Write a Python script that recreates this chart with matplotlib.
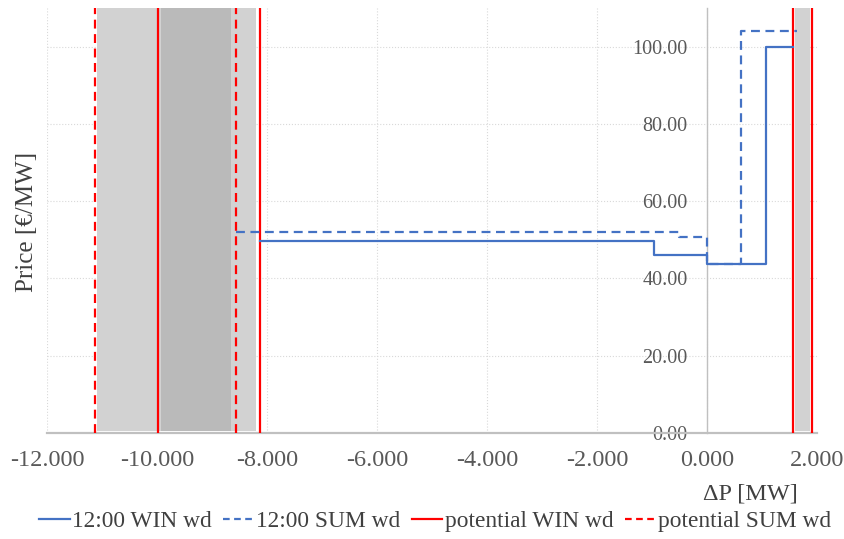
import matplotlib
matplotlib.use("Agg")
import matplotlib.pyplot as plt
from matplotlib.ticker import FormatStrFormatter
from matplotlib.lines import Line2D

plt.rcParams['font.family'] = ['Liberation Serif', 'DejaVu Serif']

# Data (ΔP in MW, price in €/MW)
win_x = [-8.127, -0.964, 0.0, 1.067, 1.564]
win_y = [49.8, 46.1, 43.7, 99.8, 99.8]
sum_x = [-8.569, -0.504, 0.0, 0.612, 1.630]
sum_y = [51.9, 50.7, 43.7, 104.0, 104.0]
pot_win = [-9.976, -8.127, 1.564, 1.915]
pot_sum = [-11.127, -8.569]
span_light = [(-11.09, -8.20), (1.605, 1.873)]
span_dark = [(-9.93, -8.654)]
xticks = [-12, -10, -8, -6, -4, -2, 0, 2]
yticks = [0, 20, 40, 60, 80, 100]
legend_labels = ['12:00 WIN wd', '12:00 SUM wd', 'potential WIN wd', 'potential SUM wd']

blue = '#4472c4'
red = '#ff0000'
tick_col = '#595959'

fig = plt.figure(figsize=(8.45, 5.39), dpi=100)
ax = fig.add_axes([47/845, 1-433/539, (817-47)/845, (433-8)/539])

for a, b in span_light:
    ax.axvspan(a, b, ymin=0.004, ymax=1.0, color='#d2d2d2', lw=0, zorder=1)
for a, b in span_dark:
    ax.axvspan(a, b, ymin=0.004, ymax=1.0, color='#bababa', lw=0, zorder=1.1)

for x in pot_win:
    ax.axvline(x, color=red, lw=1.6, zorder=3)
for x in pot_sum:
    ax.axvline(x, color=red, lw=1.6, ls=(0, (4, 2.5)), zorder=3)

ax.step(win_x, win_y, where='post', color=blue, lw=1.6, zorder=4)
ax.step(sum_x, sum_y, where='post', color=blue, lw=1.6, ls=(0, (4, 2.5)), zorder=4)

ax.set_xlim(-12, 2)
ax.set_ylim(0, 110)
ax.set_xticks(xticks)
ax.set_yticks(yticks)
ax.xaxis.set_major_formatter(FormatStrFormatter('%.3f'))
ax.yaxis.set_major_formatter(FormatStrFormatter('%.2f'))
ax.tick_params(axis='x', length=0, labelsize=17.5, labelcolor=tick_col, pad=12)
ax.tick_params(axis='y', length=0, labelsize=14.5, labelcolor=tick_col, pad=14)

ax.grid(True, color='#d9d9d9', lw=0.8, ls=':', zorder=0)
ax.set_axisbelow(True)
for s in ['top', 'right']:
    ax.spines[s].set_visible(False)
ax.spines['left'].set_position(('data', 0))
ax.spines['left'].set_color('#c0c0c0')
ax.spines['left'].set_linewidth(1.0)
ax.spines['bottom'].set_color('#c0c0c0')
ax.spines['bottom'].set_linewidth(1.6)

fig.text(750/845, 1-494/539, 'ΔP [MW]', fontsize=17.5, color='#404040', ha='center', va='center')
fig.text(27/845, 1-222/539, 'Price [€/MW]', fontsize=18, color='#404040', ha='center', va='center', rotation=90)

handles = [
    Line2D([], [], color=blue, lw=1.6),
    Line2D([], [], color=blue, lw=1.6, ls=(0, (3, 2))),
    Line2D([], [], color=red, lw=1.6),
    Line2D([], [], color=red, lw=1.6, ls=(0, (3, 2))),
]
fig.legend(handles, legend_labels, loc='center', bbox_to_anchor=(435/845, 1-521/539), ncol=4,
           frameon=False, fontsize=16.8, handlelength=1.3, handletextpad=0.1, columnspacing=0.5,
           labelcolor='#404040')

fig.savefig('out.png', dpi=100, facecolor='white')
